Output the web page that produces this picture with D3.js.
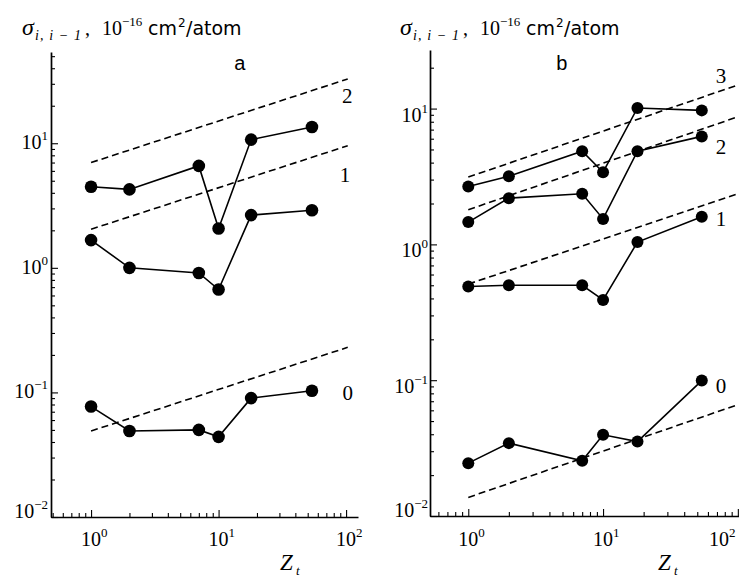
<!DOCTYPE html>
<html>
<head>
<meta charset="utf-8">
<script src="https://cdn.jsdelivr.net/npm/d3@7"></script>
<style>
body { margin: 0; background: #fff; }
svg { display: block; }
.serif { font-family: "Liberation Serif", "DejaVu Serif", serif; }
.sans { font-family: "Liberation Sans", Arial, sans-serif; }
.wide { font-family: "DejaVu Sans", "Liberation Sans", sans-serif; }
</style>
</head>
<body>
<svg width="739" height="579"></svg>
<script>

// DATA

// Target atomic number Z_t (H, He, N, Ne, Ar, Xe)
var zt = [1, 2, 7, 10, 18, 54];

// Panel a : cross sections, 10^-16 cm^2/atom
var aSeries0 = [0.077, 0.049, 0.050, 0.044, 0.090, 0.103];
var aSeries1 = [1.67, 1.00, 0.91, 0.67, 2.65, 2.90];
var aSeries2 = [4.47, 4.26, 6.58, 2.07, 10.7, 13.5];

// Panel a : Z^(1/3) guide lines, values at the two ends
var aFitZ = [1, 103];
var aFit0 = [0.049, 0.23];
var aFit1 = [2.04, 9.56];
var aFit2 = [7.0, 32.8];

// Panel b
var bSeries0 = [0.0245, 0.0344, 0.0255, 0.0396, 0.0353, 0.0993];
var bSeries1 = [0.49, 0.50, 0.50, 0.39, 1.04, 1.60];
var bSeries2 = [1.46, 2.19, 2.36, 1.54, 4.86, 6.24];
var bSeries3 = [2.67, 3.18, 4.86, 3.40, 10.1, 9.7];

var bFitZ = [1, 100];
var bFit0 = [0.0137, 0.066];
var bFit1 = [0.51, 2.36];
var bFit2 = [1.80, 8.7];
var bFit3 = [3.13, 14.9];

// tick labels (powers of ten)
var xTickExp = [0, 1, 2];
var yTickExp = [-2, -1, 0, 1];


// VIEW

var svg = d3.select("svg");

var panels = [
  {
    xDomain: [0.485, 124], xRange: [51, 358],
    yDomain: [0.01, 54], yRange: [517, 52],
    r: 6.3, yLabOff: 6, yLabEnd: 48,
    titleX: 22, zLabelX: 280,
    tag: "a", tagAt: [14.7, 38.5],
    series: [aSeries0, aSeries1, aSeries2],
    fitZ: aFitZ, fits: [aFit0, aFit1, aFit2],
    curveAt: [[103, 0.087], [98, 4.86], [102, 20.9]]
  },
  {
    xDomain: [0.52, 102], xRange: [430, 739],
    yDomain: [0.01, 27], yRange: [516, 50],
    r: 6, yLabOff: 13, yLabEnd: 428,
    titleX: 400, zLabelX: 658,
    tag: "b", tagAt: [4.94, 19.1],
    series: [bSeries0, bSeries1, bSeries2, bSeries3],
    fitZ: bFitZ, fits: [bFit0, bFit1, bFit2, bFit3],
    curveAt: [[75, 0.081], [75, 1.36], [75, 4.65], [75, 15.3]]
  }
];

panels.forEach(drawPanel);

function logTicks(domain, major) {
  var out = [];
  var lo = Math.floor(Math.log10(domain[0])), hi = Math.ceil(Math.log10(domain[1]));
  for (var e = lo; e <= hi; e++) {
    for (var k = 1; k <= 9; k++) {
      var v = k * Math.pow(10, e);
      if (v < domain[0] * 0.999 || v > domain[1] * 1.001) continue;
      if ((k == 1) == major) out.push(v);
    }
  }
  return out;
}

function drawPanel(p) {
  var x = d3.scaleLog().domain(p.xDomain).range(p.xRange);
  var y = d3.scaleLog().domain(p.yDomain).range(p.yRange);
  var x0 = p.xRange[0], y0 = p.yRange[0];

  var g = svg.append("g");

  // axes: ticks point inward
  var gx = g.append("g").attr("transform", "translate(0," + y0 + ")");
  gx.call(d3.axisBottom(x).tickValues(logTicks(p.xDomain, false)).tickSize(-4).tickSizeOuter(0).tickFormat(""));
  gx.append("g").call(d3.axisBottom(x).tickValues(logTicks(p.xDomain, true)).tickSize(-7).tickSizeOuter(0).tickFormat(""))
    .select(".domain").remove();

  var gy = g.append("g").attr("transform", "translate(" + x0 + ",0)");
  gy.call(d3.axisLeft(y).tickValues(logTicks(p.yDomain, false)).tickSize(-4).tickSizeOuter(0).tickFormat(""));
  gy.append("g").call(d3.axisLeft(y).tickValues(logTicks(p.yDomain, true)).tickSize(-7).tickSizeOuter(0).tickFormat(""))
    .select(".domain").remove();

  g.selectAll(".domain").attr("stroke", "#000").attr("stroke-width", 1.7);
  g.selectAll(".tick line").attr("stroke", "#000").attr("stroke-width", 1.1);

  // x tick labels
  xTickExp.forEach(function(e) {
    var sx = Math.min(x(Math.pow(10, e)) - 10, 709);
    var t = g.append("text").attr("class", "serif").attr("x", sx).attr("y", 546)
      .style("font-size", "20px");
    t.append("tspan").text("10");
    t.append("tspan").attr("dy", -9).style("font-size", "13px").text(e < 0 ? "\u2212" + (-e) : e);
  });

  // y tick labels
  yTickExp.forEach(function(e) {
    var by = Math.min(y(Math.pow(10, e)) + p.yLabOff, y0 + 1);
    var t = g.append("text").attr("class", "serif").attr("x", p.yLabEnd).attr("y", by)
      .attr("text-anchor", "end").style("font-size", "20px");
    t.append("tspan").text("10");
    t.append("tspan").attr("dy", -9).style("font-size", "13px").text(e < 0 ? "\u2212" + (-e) : e);
  });

  // dashed Z^(1/3) lines
  p.fits.forEach(function(f) {
    g.append("line")
      .attr("x1", x(p.fitZ[0])).attr("y1", y(f[0]))
      .attr("x2", x(p.fitZ[1])).attr("y2", y(f[1]))
      .attr("stroke", "#000").attr("stroke-width", 1.6)
      .attr("stroke-dasharray", "7,4");
  });

  // measured series
  var line = d3.line()
    .x(function(d, i) { return x(zt[i]); })
    .y(function(d) { return y(d); });

  p.series.forEach(function(s) {
    g.append("path").attr("d", line(s))
      .attr("fill", "none").attr("stroke", "#000").attr("stroke-width", 1.6);
    g.selectAll(null).data(s).enter().append("circle")
      .attr("cx", function(d, i) { return x(zt[i]); })
      .attr("cy", function(d) { return y(d); })
      .attr("r", p.r).attr("fill", "#000");
  });

  // curve numbers
  p.curveAt.forEach(function(c, i) {
    g.append("text").attr("class", "serif")
      .attr("x", x(c[0])).attr("y", y(c[1]))
      .attr("text-anchor", "middle").style("font-size", "21px")
      .text(i);
  });

  // panel letter
  g.append("text").attr("class", "sans")
    .attr("x", x(p.tagAt[0])).attr("y", y(p.tagAt[1]))
    .attr("text-anchor", "middle").style("font-size", "20px")
    .text(p.tag);

  // x axis title Z_t
  g.append("text").attr("class", "serif").attr("x", p.zLabelX).attr("y", 570)
    .style("font-size", "23px").style("font-style", "italic").text("Z");
  g.append("text").attr("class", "serif").attr("x", p.zLabelX + 16).attr("y", 575)
    .style("font-size", "13px").style("font-style", "italic").text("t");

  // y axis title
  var tx = p.titleX, ty = 35;
  var part = function(dx, dy, cls, size, italic, txt, len) {
    var t = g.append("text").attr("class", cls)
      .attr("x", tx + dx).attr("y", ty + dy)
      .style("font-size", size + "px")
      .style("font-style", italic ? "italic" : "normal")
      .text(txt);
    if (len) t.attr("textLength", len).attr("lengthAdjust", "spacing");
  };
  part(0, 0, "serif", 24, true, "\u03c3");
  part(13, 5, "serif", 14, true, "i, i \u2212 1", 46);
  part(63, 0, "serif", 20, false, ",");
  part(80, 0, "serif", 20, false, "10");
  part(100, -9, "serif", 13, false, "\u221216");
  part(126, 0, "wide", 19, false, "cm");
  part(156, -8, "wide", 12, false, "2");
  part(164, 0, "wide", 19, false, "/atom");
}
</script>
</body>
</html>
